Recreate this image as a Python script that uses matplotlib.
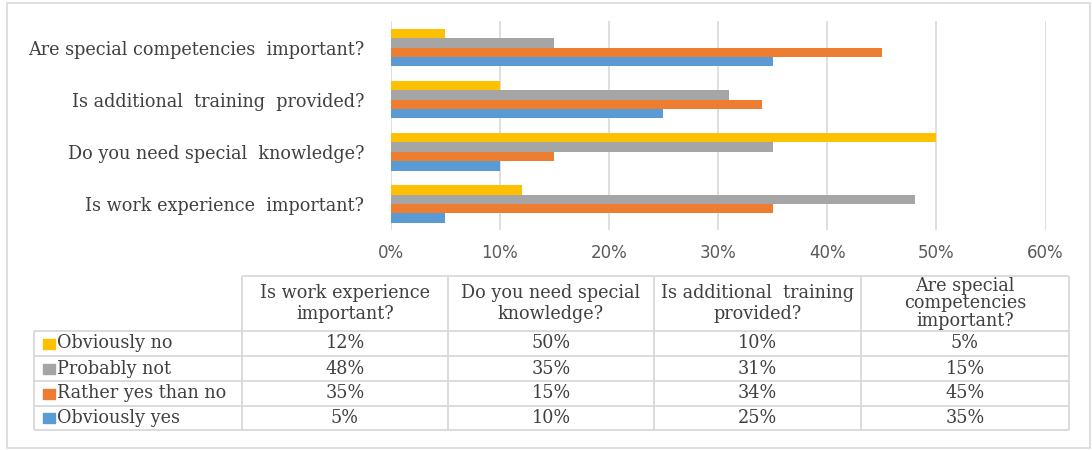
import matplotlib.pyplot as plt
from matplotlib.patches import Rectangle
import numpy as np

# data
questions = ['Is work experience  important?', 'Do you need special  knowledge?',
             'Is additional  training  provided?', 'Are special competencies  important?']
header_labels = ['Is work experience\nimportant?', 'Do you need special\nknowledge?',
                 'Is additional  training\nprovided?', 'Are special\ncompetencies\nimportant?']
series_names = ['Obviously no', 'Probably not', 'Rather yes than no', 'Obviously yes']
obviously_no = [12, 50, 10, 5]
probably_not = [48, 35, 31, 15]
rather_yes = [35, 15, 34, 45]
obviously_yes = [5, 10, 25, 35]
series_values = [obviously_no, probably_not, rather_yes, obviously_yes]
series_colors = ['#FFC000', '#A5A5A5', '#ED7D31', '#5B9BD5']
x_ticks = [0, 10, 20, 30, 40, 50, 60]

W, H = 1092, 450
serif = 'DejaVu Serif'
fs = 12.7
text_color = '#404040'
grid_color = '#D9D9D9'

fig = plt.figure(figsize=(W / 100, H / 100), dpi=100)

# outer chart frame
fig.patches.append(Rectangle((7 / W, 1 - 448 / H), 1083 / W, 445 / H, transform=fig.transFigure,
                             fill=False, edgecolor='#D9D9D9', linewidth=1.2))

# bar chart area
left, right, top, bottom = 390.5, 1045.5, 21.5, 230
ax = fig.add_axes([left / W, 1 - bottom / H, (right - left) / W, (bottom - top) / H])
ypos = np.arange(len(questions))
bar_h = 0.18
offsets = [1.5, 0.5, -0.5, -1.5]
for vals, col, off in zip(series_values, series_colors, offsets):
    ax.barh(ypos + off * bar_h, vals, height=bar_h, color=col, zorder=3)

ax.set_xlim(0, 60)
ax.set_ylim(-0.5, 3.5)
ax.set_xticks(x_ticks)
ax.set_xticklabels([f'{t}%' for t in x_ticks], fontsize=12, color='#595959', family='DejaVu Sans')
ax.set_yticks(ypos)
ax.set_yticklabels(questions, fontsize=fs, color=text_color, family=serif)
ax.tick_params(axis='x', length=0, pad=10)
ax.tick_params(axis='y', length=0, pad=19)
ax.grid(axis='x', color=grid_color, linewidth=1.2, zorder=0)
for s in ax.spines.values():
    s.set_visible(False)

# data table below the chart, drawn in pixel coordinates
tx = fig.add_axes([0, 0, 1, 1], zorder=-1)
tx.set_xlim(0, W)
tx.set_ylim(H, 0)
tx.axis('off')
col_x = [34, 242, 448, 654, 861, 1069]
row_y = [276, 331, 356, 381, 406, 430]
lw = 1.3
# header cells
tx.hlines(row_y[0], col_x[1], col_x[-1], color=grid_color, lw=lw)
for x in col_x[1:]:
    tx.vlines(x, row_y[0], row_y[-1], color=grid_color, lw=lw)
tx.vlines(col_x[0], row_y[1], row_y[-1], color=grid_color, lw=lw)
for y in row_y[1:]:
    tx.hlines(y, col_x[0], col_x[-1], color=grid_color, lw=lw)

for j, lab in enumerate(header_labels):
    cx = (col_x[j + 1] + col_x[j + 2]) / 2
    ls = 1.2 if lab.count('\n') == 1 else 0.98
    tx.text(cx, (row_y[0] + row_y[1]) / 2, lab, ha='center', va='center', fontsize=fs,
            color=text_color, family=serif, linespacing=ls)

for i, (name, vals, col) in enumerate(zip(series_names, series_values, series_colors)):
    cy = (row_y[i + 1] + row_y[i + 2]) / 2
    tx.add_patch(Rectangle((43, cy - 5), 12, 10, color=col))
    tx.text(57, cy, name, ha='left', va='center', fontsize=fs, color=text_color, family=serif)
    for j, v in enumerate(vals):
        cx = (col_x[j + 1] + col_x[j + 2]) / 2
        tx.text(cx, cy, f'{v}%', ha='center', va='center', fontsize=fs, color=text_color, family=serif)

fig.savefig('out.png', dpi=100)
